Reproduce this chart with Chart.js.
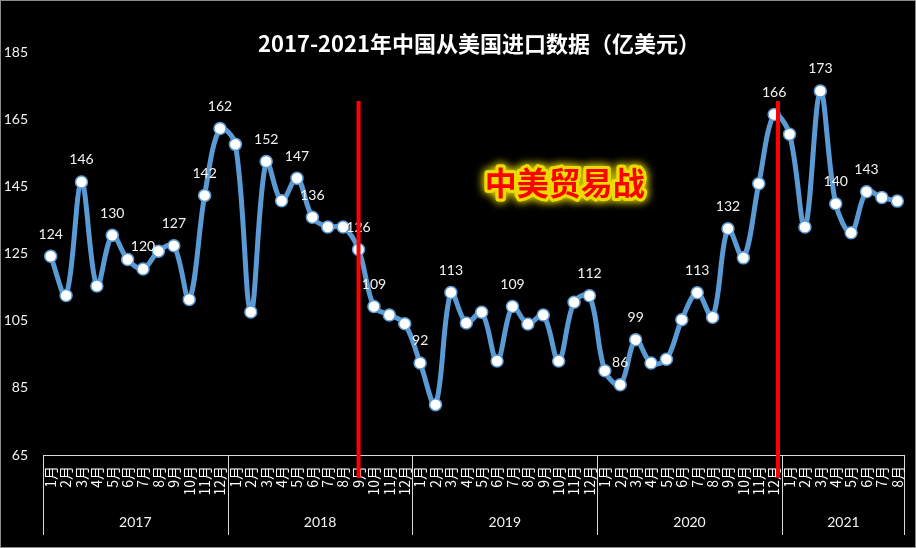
<!DOCTYPE html>
<html>
<head>
<meta charset="utf-8">
<title>2017-2021年中国从美国进口数据</title>
<script src="https://cdn.jsdelivr.net/npm/chart.js@4.4.1/dist/chart.umd.min.js"></script>
<style>
  html, body { margin: 0; padding: 0; background: #000; }
  canvas { display: block; }
</style>
</head>
<body>
<canvas id="importChart" width="916" height="548"></canvas>
<script>
// chart data
const chartTitle = "2017-2021年中国从美国进口数据（亿美元）";
const annotationText = "中美贸易战";
const years = ["2017", "2018", "2019", "2020", "2021"];
const monthsPerYear = [12, 12, 12, 12, 8];
const yTicks = [65, 85, 105, 125, 145, 165, 185];

// monthly imports, 亿美元
const values2017 = [124.2, 112.5, 146.3, 115.3, 130.4, 123.2, 120.4, 125.7, 127.3, 111.3, 142.3, 162.2];
const values2018 = [157.5, 107.6, 152.4, 140.7, 147.4, 135.8, 132.9, 132.9, 126.2, 109.2, 106.7, 104.1];
const values2019 = [92.4, 80.0, 113.4, 104.3, 107.5, 93.0, 109.2, 104.0, 106.7, 93.0, 110.5, 112.4];
const values2020 = [90.1, 85.9, 99.3, 92.4, 93.5, 105.3, 113.3, 106.0, 132.4, 123.7, 145.8, 166.4];
const values2021 = [160.5, 132.9, 173.4, 139.8, 131.2, 143.4, 141.7, 140.6];

// which points carry a value label
const labelledPoints = [0, 2, 4, 6, 8, 10, 11, 14, 16, 17, 20, 21, 24, 26, 30, 35, 37, 38, 42, 44, 47, 50, 51, 53];
// trade war markers: 2018-9 and 2020-12
const markerPoints = [20, 47];

const importValues = [].concat(values2017, values2018, values2019, values2020, values2021);

// build month labels like "1月"
const monthLabels = [];
monthsPerYear.forEach((n) => {
  for (let m = 1; m <= n; m++) monthLabels.push(m + "月");
});

const lineBlue = "#5B9BD5";
const textColor = "#f2f2f2";
const axisColor = "#d9d9d9";
const cjkFont = "'Noto Sans CJK SC', 'Noto Sans', sans-serif";
const numFont = "Lato, 'Open Sans', sans-serif";

// draws title, data labels, two-level x axis, red markers and the annotation
const decorPlugin = {
  id: "decor",
  beforeDraw(chart) {
    const ctx = chart.ctx;
    ctx.save();
    ctx.fillStyle = "#000";
    ctx.fillRect(0, 0, chart.width, chart.height);
    // thin frame round the chart
    ctx.strokeStyle = "#8c8c8c";
    ctx.lineWidth = 1;
    ctx.strokeRect(0.5, 0.5, chart.width - 1, chart.height - 1);
    ctx.restore();
  },
  afterDatasetsDraw(chart) {
    const ctx = chart.ctx;
    const meta = chart.getDatasetMeta(0);
    ctx.save();
    ctx.fillStyle = textColor;
    ctx.font = "14px " + numFont;
    ctx.textAlign = "center";
    ctx.textBaseline = "middle";
    labelledPoints.forEach((i) => {
      const pt = meta.data[i];
      ctx.fillText(String(Math.round(importValues[i])), pt.x, pt.y - 22);
    });
    ctx.restore();
  },
  afterDraw(chart) {
    const ctx = chart.ctx;
    const area = chart.chartArea;
    const x = chart.scales.x;
    const y = chart.scales.y;
    const catWidth = (area.right - area.left) / importValues.length;

    ctx.save();
    // title
    ctx.fillStyle = "#ffffff";
    ctx.font = "bold 22px " + cjkFont;
    ctx.textAlign = "center";
    ctx.textBaseline = "middle";
    ctx.fillText(chartTitle, 479, 44);

    // axis line
    ctx.strokeStyle = axisColor;
    ctx.lineWidth = 1;
    ctx.beginPath();
    ctx.moveTo(area.left, Math.round(area.bottom) + 0.5);
    ctx.lineTo(area.right, Math.round(area.bottom) + 0.5);
    ctx.stroke();

    // year separators and year labels
    let start = 0;
    const sepBottom = area.bottom + 80;
    monthsPerYear.forEach((n, k) => {
      const left = x.getPixelForValue(start) - catWidth / 2;
      const right = x.getPixelForValue(start + n - 1) + catWidth / 2;
      ctx.beginPath();
      ctx.moveTo(Math.round(left) + 0.5, area.bottom);
      ctx.lineTo(Math.round(left) + 0.5, sepBottom);
      if (k === monthsPerYear.length - 1) {
        ctx.moveTo(Math.round(right) - 0.5, area.bottom);
        ctx.lineTo(Math.round(right) - 0.5, sepBottom);
      }
      ctx.stroke();
      ctx.fillStyle = textColor;
      ctx.font = "14px " + numFont;
      ctx.textAlign = "center";
      ctx.textBaseline = "middle";
      ctx.fillText(years[k], (left + right) / 2, area.bottom + 67);
      start += n;
    });

    // rotated month labels
    ctx.font = "14px " + cjkFont;
    ctx.fillStyle = "#ffffff";
    monthLabels.forEach((lbl, i) => {
      const px = x.getPixelForValue(i);
      ctx.save();
      ctx.translate(px, area.bottom + 11);
      ctx.rotate(-Math.PI / 2);
      ctx.textAlign = "right";
      ctx.textBaseline = "middle";
      ctx.fillText(lbl, 0, 0);
      ctx.restore();
    });

    // red trade war markers
    ctx.strokeStyle = "#ff0000";
    ctx.lineWidth = 4;
    markerPoints.forEach((i, k) => {
      const px = x.getPixelForValue(i) + (k === 1 ? catWidth * 0.25 : 0);
      ctx.beginPath();
      ctx.moveTo(px, y.getPixelForValue(170.4));
      ctx.lineTo(px, area.bottom + 23);
      ctx.stroke();
    });

    // annotation with yellow glow
    const ax = x.getPixelForValue(33) + 6;
    const ay = y.getPixelForValue(146);
    ctx.font = "bold 32px " + cjkFont;
    ctx.textAlign = "center";
    ctx.textBaseline = "middle";
    ctx.shadowColor = "rgba(255, 240, 0, 0.9)";
    ctx.shadowBlur = 10;
    ctx.strokeStyle = "rgba(235, 220, 0, 0.85)";
    ctx.lineWidth = 6;
    ctx.lineJoin = "round";
    ctx.strokeText(annotationText, ax, ay);
    ctx.strokeText(annotationText, ax, ay);
    ctx.shadowBlur = 0;
    ctx.fillStyle = "#ff0000";
    ctx.fillText(annotationText, ax, ay);
    ctx.restore();
  },
};

const ctx = document.getElementById("importChart").getContext("2d");

new Chart(ctx, {
  type: "line",
  data: {
    labels: monthLabels,
    datasets: [
      {
        label: "进口",
        data: importValues,
        borderColor: lineBlue,
        borderWidth: 5,
        tension: 0.35,
        pointRadius: 6,
        pointBackgroundColor: "#ffffff",
        pointBorderColor: lineBlue,
        pointBorderWidth: 1.5,
        fill: false,
      },
    ],
  },
  options: {
    responsive: false,
    animation: false,
    devicePixelRatio: 1,
    layout: {
      padding: { top: 52, right: 11, bottom: 93, left: 0 },
    },
    scales: {
      x: {
        display: false,
        offset: true,
      },
      y: {
        min: 65,
        max: 185,
        afterBuildTicks: (scale) => {
          scale.ticks = yTicks.map((v) => ({ value: v }));
        },
        afterFit: (scale) => {
          scale.width = 43;
        },
        grid: { display: false },
        border: { display: false },
        ticks: {
          color: textColor,
          padding: 7,
          font: { family: "Lato", size: 14 },
        },
      },
    },
    plugins: {
      legend: { display: false },
      tooltip: { enabled: false },
    },
  },
  plugins: [decorPlugin],
});
</script>
</body>
</html>
